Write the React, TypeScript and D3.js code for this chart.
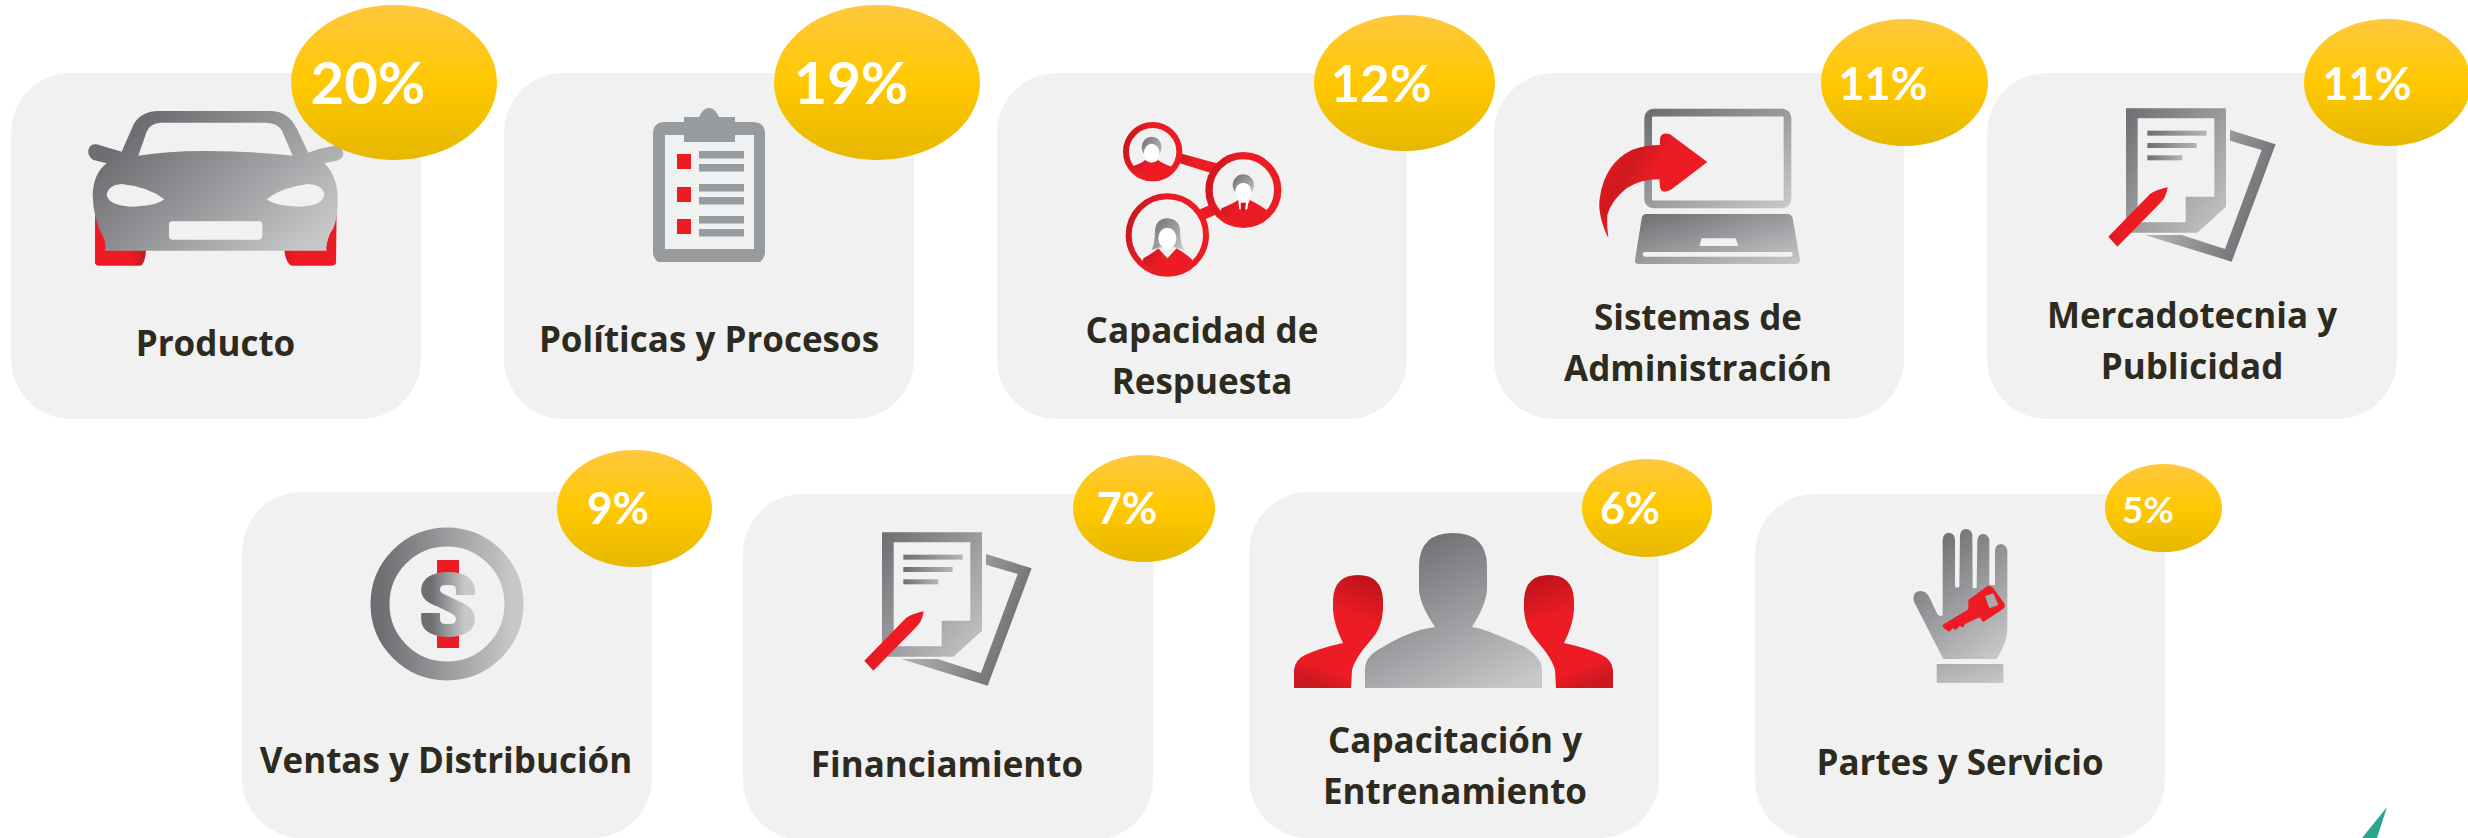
import * as d3 from 'd3'

const categories = [
  'Producto',
  'Políticas y Procesos',
  'Capacidad de Respuesta',
  'Sistemas de Administración',
  'Mercadotecnia y Publicidad',
  'Ventas y Distribución',
  'Financiamiento',
  'Capacitación y Entrenamiento',
  'Partes y Servicio',
]
const shares = [20, 19, 12, 11, 11, 9, 7, 6, 5]
const labelLines = [
  ['Producto'],
  ['Políticas y Procesos'],
  ['Capacidad de', 'Respuesta'],
  ['Sistemas de', 'Administración'],
  ['Mercadotecnia y', 'Publicidad'],
  ['Ventas y Distribución'],
  ['Financiamiento'],
  ['Capacitación y', 'Entrenamiento'],
  ['Partes y Servicio'],
]

const WIDTH = 2468
const HEIGHT = 838
const CARD_W = 410
const CARD_H = 346

const cardLeft = d3.scaleOrdinal<string, number>().domain(categories).range([11, 504, 997, 1494, 1987, 242, 743, 1249, 1755])
const cardTop = d3.scaleOrdinal<string, number>().domain(categories).range([73, 73, 73, 73, 73, 492, 494, 492, 494])
const bubbleX = d3.scaleOrdinal<string, number>().domain(categories).range([394, 877, 1404.5, 1904.5, 2387.5, 634.5, 1144, 1647, 2163.5])
const bubbleY = d3.scaleOrdinal<string, number>().domain(categories).range([82.5, 82.5, 83, 82.5, 82.5, 508.5, 508.5, 508, 508])
const shareX = d3.scaleOrdinal<string, number>().domain(categories).range([368, 851, 1381, 1883, 2367, 618, 1127, 1630, 2148])
const shareY = d3.scaleOrdinal<string, number>().domain(categories).range([104, 104, 102, 100, 100, 524, 524, 524, 523])
const labelX = d3.scaleOrdinal<string, number>().domain(categories).range([215.5, 709, 1202, 1698, 2192, 446, 947, 1455, 1960])
const labelY = d3.scaleOrdinal<string, number>().domain(categories).range([356, 352, 343, 330, 328, 773, 777, 753, 775])

const bubbleW = d3.scaleLinear().domain([5, 6, 7, 9, 11, 12, 19]).range([117, 130, 142, 155, 167, 181, 206]).clamp(true)
const bubbleH = d3.scaleLinear().domain([5, 6, 7, 9, 11, 12, 19]).range([88, 98, 107, 117, 127, 136, 155]).clamp(true)
const shareFont = d3.scaleLinear().domain([5, 6, 11, 12, 19]).range([37, 43, 45, 51, 58]).clamp(true)

const BG = '#f1f1f1'
const GREY = 'url(#grey)'
const RED = 'url(#red)'

const Traced = ({ x, y, children }: any) => <g transform={`translate(${x},${y}) scale(${1 / 3})`}>{children}</g>

const Car = () => (
  <Traced x={75} y={100}>
    <path d="M60 340 L60 490 Q62 497 70 497 L195 497 Q210 495 213 450 L100 450 Z" fill="url(#redWheel)" />
    <path d="M785 320 L783 490 Q780 497 770 497 L650 497 Q632 490 628 450 L750 450 Z" fill={RED} />
    <path
      fillRule="evenodd"
      fill="url(#greyCar)"
      d="M250 33 L590 33 Q640 35 665 85 L700 158 Q730 145 780 137 Q805 140 805 160 Q805 178 785 182 L748 190 Q785 225 788 290 Q790 350 775 385 Q750 420 755 452 L90 452 Q95 430 85 410 Q55 360 53 285 Q55 220 95 190 L55 180 Q38 170 40 150 Q45 130 65 133 L140 155 L175 75 Q195 35 250 33 Z
      M258 68 Q225 70 215 95 L190 167 Q280 152 400 153 Q550 155 653 167 L620 90 Q605 68 570 68 Z
      M95 285 Q100 255 140 252 Q220 260 268 298 Q240 320 165 320 Q100 315 95 285 Z
      M748 285 Q745 255 700 252 Q620 262 575 298 Q605 320 680 320 Q745 315 748 285 Z
      M292 364 L552 364 Q562 364 562 374 L562 409 Q562 419 552 419 L292 419 Q282 419 282 409 L282 374 Q282 364 292 364 Z"
    />
  </Traced>
)

const clipRows = [154, 187, 219]
const Clipboard = () => (
  <g>
    <path d="M665 122 L753 122 Q765 122 765 134 L765 252 Q765 258 760 262 L658 262 Q653 258 653 252 L653 134 Q653 122 665 122 Z" fill="#969ba0" />
    <rect x={665} y={135} width={89} height={114} fill={BG} />
    <path d="M684 142 L684 117 L699 117 Q703 108 709 108 Q715 108 719 117 L735 117 L735 142 Z" fill="#969ba0" />
    {clipRows.map(y => (
      <g key={y}>
        <rect x={677} y={y} width={14} height={15} fill="#ed1c24" />
        <rect x={699} y={y - 3} width={45} height={7.5} fill="#969ba0" />
        <rect x={699} y={y + 10} width={45} height={7.5} fill="#969ba0" />
      </g>
    ))}
  </g>
)

const Network = () => (
  <Traced x={1110} y={110}>
    <clipPath id="c1"><circle cx={128} cy={125} r={75} /></clipPath>
    <clipPath id="c2"><circle cx={400} cy={240} r={95} /></clipPath>
    <clipPath id="c3"><circle cx={172} cy={375} r={110} /></clipPath>
    <path d="M210 130 L320 160 L300 188 L205 158 Z" fill={RED} />
    <path d="M270 298 L300 285 L315 315 L285 328 Z" fill="#ed1c24" />
    <circle cx={128} cy={125} r={80} fill={BG} stroke={RED} strokeWidth={18} />
    <circle cx={400} cy={240} r={103} fill={BG} stroke={RED} strokeWidth={22} />
    <circle cx={172} cy={375} r={116} fill={BG} stroke={RED} strokeWidth={18} />
    <g clipPath="url(#c1)">
      <path d="M70 168 Q100 158 105 150 Q125 165 145 150 Q155 160 185 170 L200 215 L60 215 Z" fill={RED} />
      <ellipse cx={125} cy={112} rx={30} ry={32} fill={GREY} />
      <ellipse cx={125} cy={129} rx={23} ry={28} fill="#fff" />
    </g>
    <g clipPath="url(#c2)">
      <path d="M335 295 Q370 280 385 270 L405 300 L420 270 Q450 285 470 300 L480 360 L320 360 Z" fill={RED} />
      <ellipse cx={400} cy={225} rx={32} ry={32} fill={GREY} />
      <ellipse cx={400} cy={245} rx={24} ry={27} fill="#fff" />
      <path d="M385 272 L415 272 L412 298 L388 298 Z" fill="#fff" />
      <path d="M392 278 L408 278 L405 300 L400 305 L393 300 Z" fill="#c9151e" />
    </g>
    <g clipPath="url(#c3)">
      <path d="M125 420 Q135 400 135 360 Q140 325 172 325 Q208 328 210 360 Q210 400 222 420 L195 412 L150 412 Z" fill={GREY} />
      <path d="M100 445 Q135 425 145 415 L172 445 L200 415 Q225 430 245 447 L260 510 L90 510 Z" fill={RED} />
      <ellipse cx={172} cy={385} rx={27} ry={32} fill="#fff" />
    </g>
  </Traced>
)

const Laptop = () => (
  <Traced x={1590} y={100}>
    <rect x={174.5} y={38} width={418} height={275} rx={15} fill="none" stroke={GREY} strokeWidth={23} />
    <path
      fillRule="evenodd"
      fill={GREY}
      d="M170 342 L590 342 Q605 342 608 355 L630 480 Q630 492 618 492 L145 492 Q133 492 135 480 L155 355 Q157 342 170 342 Z
      M335 415 L437 415 L445 438 L328 438 Z
      M165 456 L601 456 Q608 456 608 463 Q608 470 601 470 L165 470 Q158 470 158 463 Q158 456 165 456 Z"
    />
    <path
      d="M55 415 Q20 340 30 290 Q45 190 125 150 Q165 135 210 135 L210 115 Q215 95 240 103 L352 186 L245 268 Q215 285 210 262 L208 238 Q150 238 110 265 Q65 300 52 345 Q50 380 55 415 Z"
      fill="url(#redArrow)"
    />
  </Traced>
)

const Papers = ({ x, y }: { x: number; y: number }) => (
  <Traced x={x} y={y}>
    <path d="M390 90 L527 133 L395 485 L135 405 L245 405 L375 447 L485 150 L390 122 Z" fill="url(#greyBack)" />
    <path
      fillRule="evenodd"
      fill={GREY}
      d="M78 25 L378 25 L378 320 L292 398 L78 398 Z M113 55 L343 55 L343 290 L257 290 L257 367 L113 367 Z"
    />
    <rect x={142} y={92} width={178} height={15} fill="url(#greyH)" />
    <rect x={142} y={129} width={148} height={15} fill="url(#greyH)" />
    <rect x={142} y={166} width={105} height={15} fill="url(#greyH)" />
    <path d="M25 410 L150 282 Q170 268 203 262 Q198 295 180 310 L52 440 Z" fill={RED} />
  </Traced>
)

const Coin = () => (
  <g>
    <circle cx={447} cy={604} r={67} fill="none" stroke="url(#greyX)" strokeWidth={19} />
    <rect x={437} y={560} width={22} height={14} rx={1} fill="#ed1c24" />
    <rect x={437} y={635} width={22} height={13} rx={1} fill="#ed1c24" />
    {/* stretched sideways so the S gets thick uprights and thin bars */}
    <g transform="translate(448,0) scale(1.45,1)">
      <path
        d="M12 595 V590 Q12 578.5 0 578.5 Q-12 578.5 -12 590 Q-12 597 -4 601 L6 608 Q12 612 12 619 Q12 630.5 0 630.5 Q-12 630.5 -12 619 V613"
        fill="none"
        stroke="url(#greyX)"
        strokeWidth={13}
      />
    </g>
  </g>
)

const RED_PERSON =
  'M1294 688 V670 Q1295 660 1305 655 Q1320 648 1343 643 Q1334 625 1333 610 V600 Q1334 575 1358 575 Q1382 575 1383 600 V610 Q1382 628 1371 640 Q1355 658 1352 670 L1351 688 Z'
const Team = () => (
  <g>
    <path d={RED_PERSON} fill="url(#redTeam)" />
    <path d={RED_PERSON} fill="url(#redTeam)" transform="translate(2907,0) scale(-1,1)" />
    <path
      d="M1365 688 V668 Q1366 655 1383 647 Q1400 636 1420 630 Q1430 628 1435 627 Q1420 605 1419 590 V565 Q1420 533 1453 533 Q1486 533 1487 565 V590 Q1486 605 1472 627 Q1480 628 1490 632 Q1510 640 1525 647 Q1541 657 1542 668 V688 Z"
      fill="url(#greyTall)"
    />
  </g>
)

const Hand = () => (
  <Traced x={1900} y={520}>
    <path
      fill="url(#greyTall)"
      d="M128 60 Q130 38 147 38 Q165 40 165 60 L165 200 Q170 205 178 200 L180 45 Q183 27 198 27 Q215 28 217 45 L218 203 Q224 206 230 203 L232 60 Q235 42 250 42 Q265 43 268 60 L268 195 L285 195 L285 90 Q288 72 303 72 Q320 75 322 92 L322 330 Q320 370 290 417 L130 417 L42 245 Q35 215 62 213 Q78 213 88 232 L112 282 Q120 292 128 285 Z"
    />
    <rect x={110} y={432} width={200} height={57} rx={3} fill="url(#greyLight)" />
    <path
      d="M127 315 L205 268 L205 240 L262 198 Q272 195 280 205 L314 252 Q316 262 308 268 L250 306 L238 292 L195 312 L190 322 L178 318 L168 330 L158 325 L148 335 Q130 328 127 315 Z"
      fill="#ed1c24"
    />
    <path d="M255 228 L280 220 L295 255 L268 265 Z" fill="#a7a9ac" />
  </Traced>
)

const icons = [
  <Car key="car" />,
  <Clipboard key="clipboard" />,
  <Network key="network" />,
  <Laptop key="laptop" />,
  <Papers key="papers" x={2100} y={100} />,
  <Coin key="coin" />,
  <Papers key="papers2" x={856} y={524} />,
  <Team key="team" />,
  <Hand key="hand" />,
]

export default function App() {
  return (
    <svg
      width={WIDTH}
      height={HEIGHT}
      viewBox={`0 0 ${WIDTH} ${HEIGHT}`}
      style={{ position: 'absolute', left: 0, top: 0, display: 'block', background: '#fff' }}
    >
      <defs>
        <linearGradient id="grey" x1="0" y1="0" x2="1" y2="1">
          <stop offset="0" stopColor="#6d6e71" />
          <stop offset="1" stopColor="#c7c8ca" />
        </linearGradient>
        <linearGradient id="greyCar" x1="0.08" y1="0.3" x2="0.95" y2="0.85">
          <stop offset="0" stopColor="#6d6e71" />
          <stop offset="1" stopColor="#c7c8ca" />
        </linearGradient>
        <linearGradient id="greyTall" x1="0.3" y1="0" x2="0.85" y2="1">
          <stop offset="0" stopColor="#6d6e71" />
          <stop offset="1" stopColor="#c7c8ca" />
        </linearGradient>
        <linearGradient id="greyX" x1="0" y1="0" x2="1" y2="0">
          <stop offset="0" stopColor="#6d6e71" />
          <stop offset="1" stopColor="#c7c8ca" />
        </linearGradient>
        <linearGradient id="greyH" x1="0" y1="0" x2="1" y2="0">
          <stop offset="0" stopColor="#6d6e71" />
          <stop offset="1" stopColor="#b4b5b8" />
        </linearGradient>
        <linearGradient id="greyLight" x1="0" y1="0" x2="1" y2="1">
          <stop offset="0" stopColor="#a7a9ac" />
          <stop offset="1" stopColor="#c7c8ca" />
        </linearGradient>
        <linearGradient id="greyBack" x1="0" y1="0" x2="1" y2="0.4">
          <stop offset="0" stopColor="#d0d1d3" />
          <stop offset="1" stopColor="#6d6e71" />
        </linearGradient>
        <linearGradient id="red" x1="0" y1="0" x2="1" y2="0.3">
          <stop offset="0" stopColor="#c4161f" />
          <stop offset="0.45" stopColor="#ed1c24" />
          <stop offset="1" stopColor="#ed1c24" />
        </linearGradient>
        <linearGradient id="redWheel" x1="0" y1="0" x2="1" y2="0">
          <stop offset="0" stopColor="#ed1c24" />
          <stop offset="0.7" stopColor="#ed1c24" />
          <stop offset="1" stopColor="#c4161f" />
        </linearGradient>
        <linearGradient id="redTeam" x1="0.7" y1="0" x2="0.4" y2="1">
          <stop offset="0" stopColor="#bf141c" />
          <stop offset="0.35" stopColor="#ed1c24" />
          <stop offset="0.85" stopColor="#ed1c24" />
          <stop offset="1" stopColor="#cc1820" />
        </linearGradient>
        <linearGradient id="redArrow" x1="0" y1="0.1" x2="1" y2="0.7">
          <stop offset="0" stopColor="#ed1c24" />
          <stop offset="0.3" stopColor="#d0181f" />
          <stop offset="0.5" stopColor="#ed1c24" />
          <stop offset="0.85" stopColor="#ed1c24" />
          <stop offset="1" stopColor="#b3171e" />
        </linearGradient>
        <linearGradient id="bubble" x1="0" y1="0" x2="0" y2="1">
          <stop offset="0" stopColor="#ffc83f" />
          <stop offset="0.5" stopColor="#ffc800" />
          <stop offset="1" stopColor="#e6b800" />
        </linearGradient>
      </defs>

      {categories.map(c => (
        <rect key={c} x={cardLeft(c)} y={cardTop(c)} width={CARD_W} height={CARD_H} rx={60} ry={60} fill={BG} />
      ))}

      {icons}

      <g fontFamily="'Open Sans', sans-serif" fontWeight={700} fontSize={35} fill="#2d2a20" textAnchor="middle">
        {categories.map((c, i) =>
          labelLines[i].map((line, j) => (
            <text key={line} x={labelX(c)} y={labelY(c) + j * 51}>
              {line}
            </text>
          )),
        )}
      </g>

      {categories.map((c, i) => (
        <g key={c}>
          <ellipse
            cx={bubbleX(c)}
            cy={bubbleY(c)}
            rx={bubbleW(shares[i]) / 2}
            ry={bubbleH(shares[i]) / 2}
            fill="url(#bubble)"
          />
          <text
            x={shareX(c)}
            y={shareY(c)}
            fontFamily="Lato, sans-serif"
            fontWeight={700}
            fontSize={shareFont(shares[i])}
            fill="#fff"
            textAnchor="middle"
          >
            {`${shares[i]}%`}
          </text>
        </g>
      ))}

      <path d="M2387 807 L2362 838 L2377 838 Z" fill="#2aa58e" />
    </svg>
  )
}
